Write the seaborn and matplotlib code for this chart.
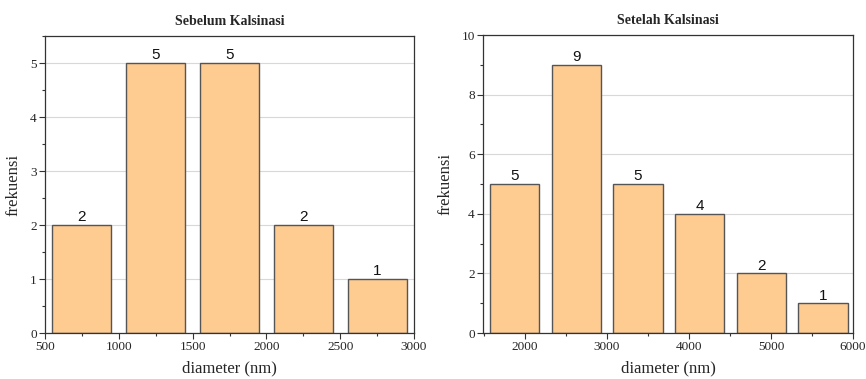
import matplotlib
matplotlib.use("Agg")
import matplotlib.pyplot as plt
import seaborn as sns
import numpy as np
import pandas as pd
from matplotlib.ticker import MultipleLocator

# Data
before_centers = [750, 1250, 1750, 2250, 2750]
before_counts = [2, 5, 5, 2, 1]
after_centers = [1870, 2625, 3378, 4130, 4880, 5633]
after_counts = [5, 9, 5, 4, 2, 1]

titles = ["Sebelum Kalsinasi", "Setelah Kalsinasi"]
xlabel = "diameter (nm)"
ylabel = "frekuensi"

sns.set_theme(style="white")
plt.rcParams["font.family"] = ["Liberation Serif", "DejaVu Serif"]

fig = plt.figure(figsize=(8.66, 3.79), dpi=100)
ax1 = fig.add_axes([45/866, 1-333/379, (414-45)/866, (333-36)/379])
ax2 = fig.add_axes([483/866, 1-333/379, (853-483)/866, (333-35)/379])

bar_color = "#FECB91"
edge_color = "#555555"

configs = [
    (ax1, before_centers, before_counts, (500, 3000), (0, 5.5), 500, 250, 1, 0.5),
    (ax2, after_centers, after_counts, (1490, 6000), (0, 10), 1000, 500, 2, 1),
]

for i, (ax, xs, ys, xlim, ylim, xmaj, xmin, ymaj, ymin) in enumerate(configs):
    df = pd.DataFrame({"x": xs, "y": ys})
    sns.barplot(data=df, x="x", y="y", native_scale=True, width=0.8,
                color=bar_color, edgecolor=edge_color, linewidth=1.0,
                saturation=1, ax=ax, zorder=2)
    for c in ax.containers:
        ax.bar_label(c, labels=[str(v) for v in ys], padding=0.5,
                     fontsize=11, family="Liberation Sans", color="#111111")
    ax.set_xlim(*xlim)
    ax.set_ylim(*ylim)
    ax.xaxis.set_major_locator(MultipleLocator(xmaj))
    ax.xaxis.set_minor_locator(MultipleLocator(xmin))
    ax.yaxis.set_major_locator(MultipleLocator(ymaj))
    ax.yaxis.set_minor_locator(MultipleLocator(ymin))
    ax.tick_params(axis="both", which="major", direction="out", length=4,
                   width=0.8, labelsize=9.5, color="#333333", pad=2,
                   bottom=True, left=True, top=False, right=False)
    ax.tick_params(axis="both", which="minor", direction="out", length=2,
                   width=0.8, color="#333333",
                   bottom=True, left=True, top=False, right=False)
    ax.grid(axis="y", which="major", color="#d8d8d8", linewidth=0.8, zorder=0)
    ax.set_axisbelow(True)
    for s in ax.spines.values():
        s.set_visible(True)
        s.set_color("#333333")
        s.set_linewidth(0.9)
    ax.set_xlabel(xlabel, fontsize=12, labelpad=5)
    ax.set_ylabel(ylabel, fontsize=12, labelpad=6)
    ax.set_title(titles[i], fontsize=10, fontweight="bold", pad=8)

fig.savefig("out.png", dpi=100)
